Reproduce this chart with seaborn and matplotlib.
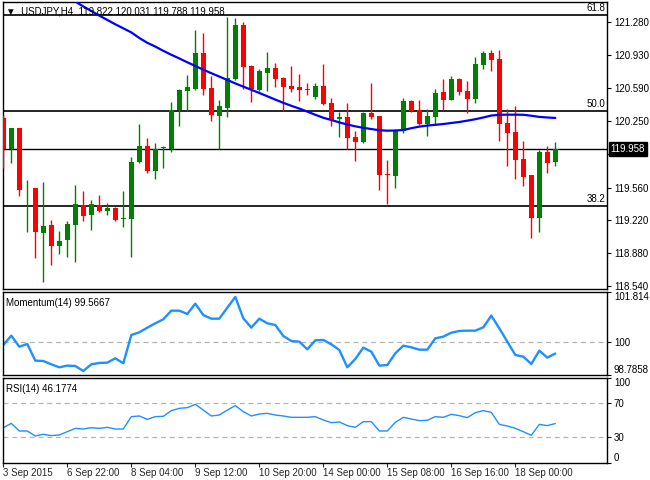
import numpy as np
import pandas as pd
import matplotlib
matplotlib.use("Agg")
import matplotlib.pyplot as plt
import matplotlib.transforms as mtransforms
import seaborn as sns

sns.set_style("white")
plt.rcParams['font.family'] = ['Liberation Sans', 'DejaVu Sans']

# ---------------- data (USDJPY H4) ----------------
opens = [120.278, 119.957, 120.181, 119.542, 119.556, 119.093, 119.172, 118.958, 119.020, 119.176,
         119.380, 119.280, 119.380, 119.318, 119.349, 119.238, 119.235, 119.826, 119.991, 119.736,
         119.971, 119.957, 120.365, 120.565, 120.582, 120.956, 120.593, 120.306, 120.389, 120.686,
         121.246, 120.821, 120.575, 120.752, 120.800, 120.696, 120.613, 120.600, 120.582, 120.499,
         120.613, 120.437, 120.271, 120.292, 120.085, 120.033, 120.334, 120.302, 119.701, 119.684,
         120.147, 120.458, 120.365, 120.220, 120.292, 120.551, 120.468, 120.686, 120.562, 120.479,
         120.831, 120.956, 120.893, 120.230, 120.137, 119.857, 119.691, 119.245, 119.929, 119.822]
highs = [120.313, 120.181, 120.181, 119.639, 119.556, 119.618, 119.224, 119.110, 119.214, 119.587,
         119.525, 119.432, 119.483, 119.400, 119.356, 119.525, 119.877, 120.220, 120.074, 120.019,
         119.995, 120.448, 120.586, 120.728, 121.194, 121.163, 120.721, 120.468, 121.332, 121.318,
         121.277, 120.831, 120.790, 120.966, 120.855, 120.703, 120.821, 120.738, 120.645, 120.645,
         120.842, 120.489, 120.344, 120.437, 120.147, 120.344, 120.645, 120.302, 119.846, 120.150,
         120.489, 120.468, 120.468, 120.375, 120.582, 120.686, 120.717, 120.696, 120.665, 120.914,
         120.976, 120.987, 120.987, 120.375, 120.406, 120.043, 119.691, 119.950, 119.991, 120.031]
lows = [119.760, 119.819, 119.477, 119.103, 118.834, 118.585, 118.758, 118.875, 118.844, 118.792,
        119.217, 119.124, 119.307, 119.280, 119.217, 119.155, 118.844, 119.819, 119.708, 119.653,
        119.767, 119.933, 120.202, 120.354, 120.572, 120.524, 120.254, 119.960, 120.296, 120.676,
        120.579, 120.451, 120.562, 120.565, 120.607, 120.354, 120.555, 120.461, 120.520, 120.479,
        120.417, 120.199, 120.085, 119.957, 119.836, 120.022, 120.271, 119.535, 119.390, 119.556,
        120.126, 120.347, 120.209, 120.095, 120.220, 120.365, 120.468, 120.520, 120.334, 120.437,
        120.790, 120.769, 120.043, 119.784, 119.649, 119.577, 119.038, 119.100, 119.712, 119.788]
closes = [119.957, 120.181, 119.535, 119.546, 119.103, 119.162, 118.958, 119.007, 119.183, 119.390,
          119.269, 119.390, 119.318, 119.349, 119.228, 119.245, 119.826, 119.991, 119.736, 119.957,
          119.974, 120.365, 120.572, 120.603, 120.956, 120.586, 120.316, 120.406, 120.696, 121.246,
          120.814, 120.579, 120.769, 120.800, 120.690, 120.607, 120.582, 120.572, 120.575, 120.613,
          120.427, 120.261, 120.292, 120.078, 120.033, 120.334, 120.292, 119.694, 119.687, 120.150,
          120.458, 120.354, 120.220, 120.302, 120.541, 120.468, 120.686, 120.551, 120.479, 120.842,
          120.956, 120.883, 120.220, 120.126, 119.846, 119.670, 119.245, 119.929, 119.815, 119.958]
ma_values = [None] * 8 + [
    121.541, 121.489, 121.438, 121.391, 121.343, 121.298, 121.253, 121.211, 121.169, 121.111,
    121.061, 121.022, 120.978, 120.937, 120.899, 120.859, 120.821, 120.782, 120.746, 120.711,
    120.676, 120.640, 120.607, 120.574, 120.541, 120.507, 120.472, 120.439, 120.408, 120.379,
    120.348, 120.315, 120.284, 120.261, 120.236, 120.214, 120.195, 120.180, 120.167, 120.155,
    120.150, 120.152, 120.157, 120.176, 120.192, 120.203, 120.211, 120.219, 120.230, 120.240,
    120.254, 120.269, 120.287, 120.307, 120.315, 120.316, 120.316, 120.315, 120.305, 120.293,
    120.287, 120.282]
momentum = [99.877, 100.216, 99.816, 99.913, 99.307, 99.295, 99.174, 99.065, 99.126, 99.114,
            98.932, 99.174, 99.223, 99.235, 99.392, 99.211, 100.240, 100.337, 100.507, 100.665,
            100.810, 101.125, 101.125, 101.004, 101.379, 100.967, 100.834, 100.834, 101.234, 101.622,
            100.846, 100.507, 100.834, 100.665, 100.604, 100.204, 100.022, 99.998, 99.719, 100.047,
            100.059, 99.901, 99.695, 99.065, 99.368, 99.780, 99.635, 99.126, 99.150, 99.574,
            99.853, 99.792, 99.707, 99.707, 100.119, 100.180, 100.325, 100.386, 100.398, 100.398,
            100.519, 100.943, 100.483, 99.998, 99.513, 99.453, 99.186, 99.671, 99.417, 99.567]
rsi = [41.3, 46.4, 37.4, 37.4, 31.5, 33.5, 31.9, 32.7, 36.6, 40.5,
       39.7, 41.3, 40.5, 41.7, 39.7, 39.7, 54.3, 55.1, 51.1, 54.3,
       54.7, 61.4, 64.1, 64.9, 68.8, 62.1, 55.1, 56.2, 62.1, 67.3,
       60.2, 55.1, 57.4, 58.2, 56.2, 55.1, 53.5, 53.5, 53.5, 54.3,
       50.4, 47.2, 48.0, 43.7, 41.7, 48.4, 48.4, 37.4, 37.4, 47.6,
       53.5, 51.5, 49.6, 50.0, 54.3, 53.5, 57.0, 55.5, 53.1, 59.0,
       61.4, 59.4, 45.2, 43.3, 40.5, 36.6, 32.3, 45.2, 43.7, 46.18]
xtick_labels = ['3 Sep 2015', '6 Sep 22:00', '8 Sep 04:00', '9 Sep 12:00', '10 Sep 20:00',
                '14 Sep 00:00', '15 Sep 08:00', '16 Sep 16:00', '18 Sep 00:00']
price_ticks = [121.280, 120.930, 120.590, 120.250, 119.910, 119.560, 119.220, 118.880, 118.540]
fib_levels = [121.345, 120.355, 119.365]
fib_labels = ['61.8', '50.0', '38.2']
last_price = 119.958
mom_ticks = [101.814, 100.0, 98.7858]
rsi_ticks = [100, 70, 30, 0]

n = len(opens)
df = pd.DataFrame({'bar': np.arange(n), 'open': opens, 'high': highs, 'low': lows,
                   'close': closes, 'ma': pd.to_numeric(pd.Series(ma_values), errors='coerce'),
                   'mom': momentum, 'rsi': rsi})

# ---------------- figure ----------------
W, H = 650, 480
fig = plt.figure(figsize=(6.5, 4.8), dpi=100)
fig.patch.set_facecolor('white')

def box(x0, y0, x1, y1):
    return [x0 / W, 1 - y1 / H, (x1 - x0) / W, (y1 - y0) / H]

ax1 = fig.add_axes(box(2.5, 2, 607, 289))
ax2 = fig.add_axes(box(2.5, 291.7, 607, 375))
ax3 = fig.add_axes(box(2.5, 377.9, 607, 462.7))

xlim = (-0.1, 75.46)
fs = 7
GREEN, RED = '#008000', '#ff0000'

# candles
up = df['close'] >= df['open']
colors = np.where(up, GREEN, RED)
ax1.vlines(df['bar'], df['low'], df['high'], colors=colors, lw=1.0, zorder=3)
body_lo = np.minimum(df['open'], df['close'])
body_h = np.maximum(np.abs(df['close'] - df['open']), 0.006)
ax1.bar(df['bar'], body_h, bottom=body_lo, width=0.64, color=colors, linewidth=0, zorder=4)

# fib + price lines
trans1 = mtransforms.blended_transform_factory(ax1.transAxes, ax1.transData)
for lvl, lab in zip(fib_levels, fib_labels):
    ax1.axhline(lvl, color='black', lw=1.2, zorder=2)
    ax1.text(0.997, lvl + 0.02, lab, transform=trans1,
             ha='right', va='bottom', fontsize=fs, color='black')
ax1.axhline(last_price, color='black', lw=1.0, zorder=2)

# moving average
sns.lineplot(data=df, x='bar', y='ma', ax=ax1, color='#0000ff', lw=1.6, zorder=5)

ax1.set_xlim(*xlim)
ax1.set_ylim(118.509, 121.484)
ax1.yaxis.tick_right()
ax1.set_yticks(price_ticks)
# the 119.910 label sits hidden under the current-price box
ax1.set_yticklabels(['' if abs(t - 119.910) < 1e-6 else f'{t:.3f}' for t in price_ticks])
ax1.text(0.006, 0.985, '\u25bc  USDJPY,H4  119.822 120.031 119.788 119.958',
         transform=ax1.transAxes, ha='left', va='top', fontsize=fs, color='black', zorder=10,
         family=['Liberation Sans', 'DejaVu Sans'])
ax1.text(1.006, last_price, f'{last_price:.3f}', transform=trans1, ha='left', va='center',
         fontsize=fs, color='white', zorder=20, clip_on=False,
         bbox=dict(boxstyle='square,pad=0.2', fc='black', ec='black'))

# momentum
ax2.axhline(100, color='#b4b4b4', lw=0.9, ls=(0, (4, 3)), zorder=1)
sns.lineplot(data=df, x='bar', y='mom', ax=ax2, color='#1e90ff', lw=1.7)
ax2.set_xlim(*xlim)
ax2.set_ylim(98.7858, 101.814)
ax2.yaxis.tick_right()
ax2.set_yticks(mom_ticks)
ax2.set_yticklabels(['101.814', '100', '98.7858'])
ax2.text(0.006, 0.93, 'Momentum(14) 99.5667', transform=ax2.transAxes, ha='left', va='top',
         fontsize=fs, color='black')

# RSI
for lv in (70, 30):
    ax3.axhline(lv, color='#b4b4b4', lw=0.9, ls=(0, (4, 3)), zorder=1)
sns.lineplot(data=df, x='bar', y='rsi', ax=ax3, color='#1e90ff', lw=1.0)
ax3.set_xlim(*xlim)
ax3.set_ylim(0, 100)
ax3.yaxis.tick_right()
ax3.set_yticks(rsi_ticks)
ax3.set_yticklabels([str(t) for t in rsi_ticks])
ax3.text(0.006, 0.93, 'RSI(14) 46.1774', transform=ax3.transAxes, ha='left', va='top',
         fontsize=fs, color='black')

# x ticks
xt = np.arange(0, 8 * len(xtick_labels), 8)
for ax in (ax1, ax2):
    ax.set_xticks([])
ax3.set_xticks(xt)
ax3.set_xticklabels(xtick_labels, ha='left')

for ax in (ax1, ax2, ax3):
    ax.set_xlabel('')
    ax.set_ylabel('')
    for s in ax.spines.values():
        s.set_color('black')
        s.set_linewidth(1.0)
    ax.tick_params(axis='y', which='both', right=True, left=False, direction='out',
                   length=3, width=0.8, labelsize=fs, pad=2, colors='black')
    ax.set_facecolor('white')
ax3.tick_params(axis='x', bottom=True, direction='out', length=3, width=0.8, labelsize=fs, pad=1)

# edge labels stay inside their panel, as in the reference
labs = ax2.get_yticklabels()
labs[0].set_va('top'); labs[2].set_va('bottom')
labs = ax3.get_yticklabels()
labs[0].set_va('top'); labs[3].set_va('bottom')

fig.savefig('out.png', dpi=100, facecolor='white')
